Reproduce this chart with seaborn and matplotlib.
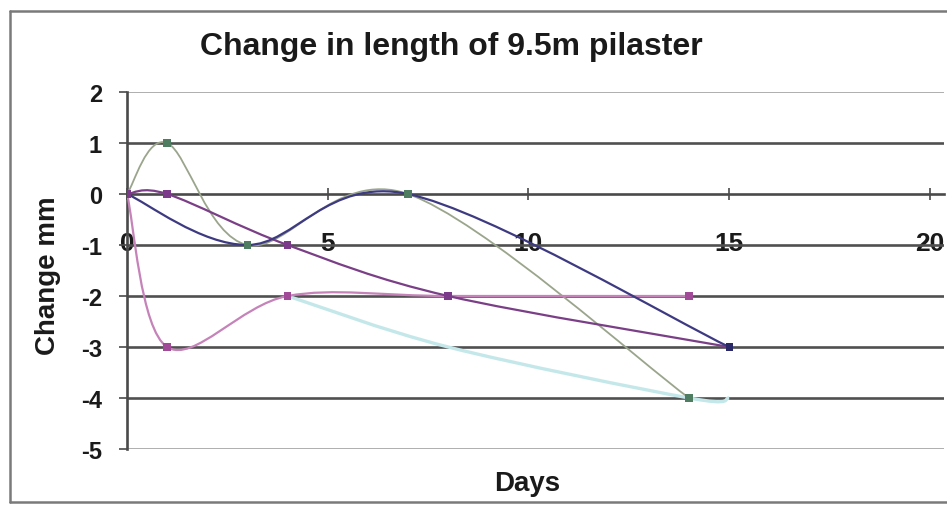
import numpy as np
import matplotlib
matplotlib.use("Agg")
import matplotlib.pyplot as plt
from matplotlib.path import Path
from matplotlib.patches import PathPatch
from matplotlib.lines import Line2D
import seaborn as sns

# data (days, change in mm)
days_green = [0, 1, 3, 7, 14]
change_green = [0, 1, -1, 0, -4]

days_navy = [0, 3, 7, 15]
change_navy = [0, -1, 0, -3]

days_purple = [0, 1, 4, 8, 15]
change_purple = [0, 0, -1, -2, -3]

days_pink = [0, 1, 4, 8, 14]
change_pink = [0, -3, -2, -2, -2]

days_cyan = [4, 8, 14, 15]
change_cyan = [-2, -3, -4, -4]

x_ticks = [0, 5, 10, 15, 20]
y_ticks = [2, 1, 0, -1, -2, -3, -4, -5]

sns.set_theme(style="white")
plt.rcParams["font.family"] = ["Liberation Sans", "DejaVu Sans"]


def smooth_path(xs, ys):
    # excel-like smoothed line: cubic bezier through the points
    pts = np.column_stack([xs, ys]).astype(float)
    n = len(pts)
    verts = [pts[0]]
    codes = [Path.MOVETO]
    for i in range(n - 1):
        p0 = pts[i - 1] if i > 0 else pts[i]
        p1 = pts[i]
        p2 = pts[i + 1]
        p3 = pts[i + 2] if i + 2 < n else pts[i + 1]
        verts += [p1 + (p2 - p0) / 6, p2 - (p3 - p1) / 6, p2]
        codes += [Path.CURVE4] * 3
    return Path(verts, codes)


fig = plt.figure(figsize=(9.47, 5.06), dpi=100)
ax = fig.add_axes([0.1341, 0.1107, 0.8627, 0.7055])
ax.set_xlim(0, 20.35)
ax.set_ylim(-5, 2)

# gridlines
for g in [1, -1, -2, -3, -4]:
    ax.axhline(g, color="#505050", lw=1.9, zorder=1)
for g in [2, -5]:
    ax.axhline(g, color="#a8a8a8", lw=1.3, zorder=1)

# (x, y, line colour, width, marker colour, first marker index, marker z)
series = [
    (days_cyan, change_cyan, "#c4e8ea", 2.4, None, 1, 4),
    (days_green, change_green, "#9aa58c", 1.3, "#4e7d62", 1, 6),
    (days_pink, change_pink, "#c583b9", 1.6, "#a04a98", 1, 4),
    (days_purple, change_purple, "#7a3f86", 1.6, "#7b3a8a", 0, 4),
    (days_navy, change_navy, "#3d3a82", 1.6, "#2b2868", 1, 4),
]
for xs, ys, lc, lw, mc, k, mz in series:
    ax.add_patch(PathPatch(smooth_path(xs, ys), facecolor="none",
                           edgecolor=lc, lw=lw, zorder=3))
    if mc is not None:
        sns.scatterplot(x=xs[k:], y=ys[k:], marker="s", s=28, color=mc,
                        edgecolor="none", ax=ax, zorder=mz)

# axes like excel: x axis crosses at y=0
ax.spines["bottom"].set_position(("data", 0))
ax.spines["right"].set_visible(False)
ax.spines["top"].set_visible(False)
for s in ["left", "bottom"]:
    ax.spines[s].set_color("#4a4a4a")
    ax.spines[s].set_linewidth(1.9)
    ax.spines[s].set_zorder(2)

ax.set_xticks(x_ticks)
ax.set_xticklabels([str(t) for t in x_ticks], fontsize=19, fontweight="bold")
ax.set_yticks(y_ticks)
ax.set_yticklabels([str(t) for t in y_ticks], fontsize=17, fontweight="bold")
ax.tick_params(axis="x", direction="inout", length=8, width=1.2,
               color="#4a4a4a", pad=23, colors="#1a1a1a")
ax.tick_params(axis="y", direction="out", length=6, width=1.2,
               color="#4a4a4a", pad=12, colors="#1a1a1a")
ax.tick_params(axis="both", which="major", bottom=True, left=True)

ax.set_xlabel("")
ax.set_ylabel("")
fig.text(0.477, 0.908, "Change in length of 9.5m pilaster",
         ha="center", va="center", fontsize=23, fontweight="bold",
         color="#1a1a1a")
fig.text(0.557, 0.043, "Days", ha="center", va="center", fontsize=20,
         fontweight="bold", color="#1a1a1a")
fig.text(0.051, 0.455, "Change mm", ha="center", va="center", rotation=90,
         fontsize=20, fontweight="bold", color="#1a1a1a")

# outer chart border
bc = "#7a7a7a"
fig.add_artist(Line2D([10 / 947, 10 / 947], [3 / 506, 494 / 506],
                      transform=fig.transFigure, color=bc, lw=1.8))
fig.add_artist(Line2D([10 / 947, 1.0], [494 / 506, 494 / 506],
                      transform=fig.transFigure, color=bc, lw=1.8))
fig.add_artist(Line2D([10 / 947, 1.0], [3 / 506, 3 / 506],
                      transform=fig.transFigure, color=bc, lw=1.8))

fig.savefig("out.png", dpi=100)
